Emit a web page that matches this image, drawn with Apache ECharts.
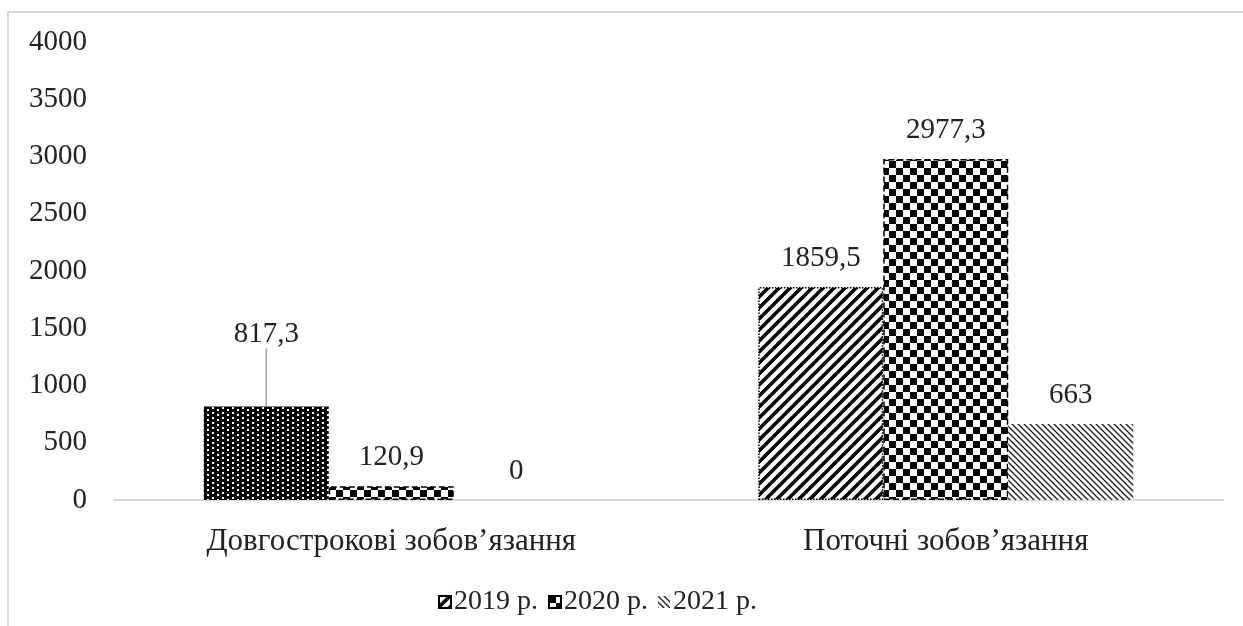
<!DOCTYPE html>
<html>
<head>
<meta charset="utf-8">
<script src="https://cdn.jsdelivr.net/npm/echarts@6/dist/echarts.min.js"></script>
<style>
html,body{margin:0;padding:0;background:#fff;}
#chart{width:1243px;height:626px;}
</style>
</head>
<body>
<div id="chart"></div>
<script>
const categories = ['Довгострокові зобов’язання', 'Поточні зобов’язання'];
const seriesNames = ['2019 р.', '2020 р.', '2021 р.'];
const values2019 = [817.3, 1859.5];
const values2020 = [120.9, 2977.3];
const values2021 = [0, 663];
const yTicks = { min: 0, max: 4000, interval: 500 };

function makeTile(w, h, draw) {
  const c = document.createElement('canvas');
  c.width = w; c.height = h;
  const ctx = c.getContext('2d');
  draw(ctx, w, h);
  return { image: c, repeat: 'repeat' };
}
// dense black with white dots
const dotPattern = makeTile(10, 10, (ctx) => {
  ctx.fillStyle = '#000'; ctx.fillRect(0, 0, 10, 10);
  ctx.fillStyle = '#fff';
  ctx.fillRect(2, 2, 2, 2); ctx.fillRect(7, 4, 2, 2);
  ctx.fillRect(2, 7, 2, 2); ctx.fillRect(7, 9, 2, 1); ctx.fillRect(7, 0, 2, 1);
});
// checkerboard
const checkPattern = makeTile(14, 14, (ctx) => {
  ctx.fillStyle = '#fff'; ctx.fillRect(0, 0, 14, 14);
  ctx.fillStyle = '#000';
  ctx.fillRect(0, 0, 7, 7); ctx.fillRect(7, 7, 7, 7);
});
// wide forward diagonal stripes
const stripePattern = makeTile(11, 11, (ctx) => {
  ctx.fillStyle = '#fff'; ctx.fillRect(0, 0, 11, 11);
  ctx.strokeStyle = '#000'; ctx.lineWidth = 3.6;
  for (let k = -1; k <= 1; k++) {
    ctx.beginPath();
    ctx.moveTo(-2 + k * 11, 13); ctx.lineTo(13 + k * 11, -2);
    ctx.stroke();
  }
});
// thin backward diagonal stripes
const thinPattern = makeTile(6, 6, (ctx) => {
  ctx.fillStyle = '#fff'; ctx.fillRect(0, 0, 6, 6);
  ctx.strokeStyle = '#222'; ctx.lineWidth = 1.4;
  for (let k = -1; k <= 1; k++) {
    ctx.beginPath();
    ctx.moveTo(-1 + k * 6, -1); ctx.lineTo(7 + k * 6, 7);
    ctx.stroke();
  }
});

const FONT = '"Liberation Serif", "Times New Roman", serif';
const fmt = (p) => String(p.value).replace('.', ',');
const labelBase = { show: true, position: 'top', distance: 14, color: '#222', fontFamily: FONT, fontSize: 29, formatter: fmt };
const barBorder = { borderColor: '#000', borderWidth: 1.5, borderType: 'dotted' };

const chart = echarts.init(document.getElementById('chart'), null, { renderer: 'canvas' });
chart.setOption({
  animation: false,
  backgroundColor: '#fff',
  graphic: [{
    type: 'rect', shape: { x: 8, y: 12, width: 1240, height: 620 },
    style: { fill: 'none', stroke: '#d9d9d9', lineWidth: 2 }, silent: true, z: -1
  }],
  grid: { left: 114, right: 20, top: 42, bottom: 126 },
  legend: {
    left: 433, top: 583,
    itemWidth: 12, itemHeight: 12, itemGap: 10,
    icon: 'rect',
    textStyle: { fontFamily: FONT, fontSize: 28, color: '#222', padding: [0, 0, 0, -2] },
    data: seriesNames
  },
  xAxis: {
    type: 'category', data: categories,
    axisLine: { lineStyle: { color: '#d9d9d9', width: 2 } },
    axisTick: { show: false },
    axisLabel: { color: '#222', fontFamily: FONT, fontSize: 31, margin: 26 }
  },
  yAxis: {
    type: 'value', min: yTicks.min, max: yTicks.max, interval: yTicks.interval,
    axisLine: { show: false }, axisTick: { show: false }, splitLine: { show: false },
    axisLabel: { color: '#222', fontFamily: FONT, fontSize: 29, margin: 27, formatter: (v) => String(v) }
  },
  series: [
    {
      name: seriesNames[0], type: 'bar', barWidth: 125, barGap: '0%',
      itemStyle: Object.assign({ color: stripePattern }, barBorder),
      label: labelBase,
      labelLayout: (p) => (p.dataIndex === 0 ? { dy: -44 } : {}),
      data: values2019.map((v, i) => i === 0
        ? {
            value: v,
            itemStyle: { color: dotPattern, borderType: 'solid', borderWidth: 0 },
            labelLine: { show: true, lineStyle: { color: '#a6a6a6', width: 1.5 } }
          }
        : v)
    },
    {
      name: seriesNames[1], type: 'bar', barWidth: 125, barGap: '0%',
      itemStyle: Object.assign({ color: checkPattern }, barBorder, { borderType: 'dashed' }),
      label: labelBase,
      data: values2020
    },
    {
      name: seriesNames[2], type: 'bar', barWidth: 125, barGap: '0%',
      itemStyle: { color: thinPattern },
      label: labelBase,
      data: values2021
    }
  ]
});
</script>
</body>
</html>
